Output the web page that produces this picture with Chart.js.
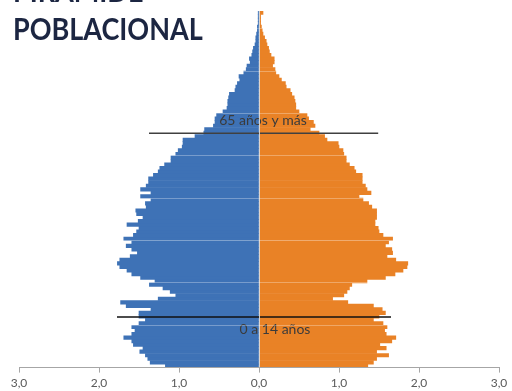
<!DOCTYPE html>
<html>
<head>
<meta charset="utf-8">
<script src="https://cdn.jsdelivr.net/npm/chart.js@4/dist/chart.umd.min.js"></script>
<style>
  html, body { margin: 0; padding: 0; background: #fff; }
  #wrap { position: relative; width: 512px; height: 391px; overflow: hidden; }
  #chart { position: absolute; left: 0; top: 0; }
  .titulo { position: absolute; left: 13px; font-family: Lato, sans-serif; font-weight: 700;
            font-size: 30px; line-height: 30px; color: #1c2642; white-space: nowrap;
            transform: scaleX(0.9); transform-origin: 0 0; }
</style>
</head>
<body>
<div id="wrap">
  <canvas id="chart" width="512" height="395"></canvas>
  <div class="titulo" style="top:-25px">PIRAMIDE</div>
  <div class="titulo" style="top:13px">POBLACIONAL</div>
</div>
<script>
// edades simples, de abajo (0) hacia arriba (100)
var edades = ['0','1','2','3','4','5','6','7','8','9',
  '10','11','12','13','14','15','16','17','18','19',
  '20','21','22','23','24','25','26','27','28','29',
  '30','31','32','33','34','35','36','37','38','39',
  '40','41','42','43','44','45','46','47','48','49',
  '50','51','52','53','54','55','56','57','58','59',
  '60','61','62','63','64','65','66','67','68','69',
  '70','71','72','73','74','75','76','77','78','79',
  '80','81','82','83','84','85','86','87','88','89',
  '90','91','92','93','94','95','96','97','98','99','100'];

// % de la poblacion
var hombres = [1.17,1.36,1.39,1.42,1.49,1.45,1.57,1.59,1.69,1.59,
  1.55,1.59,1.50,1.42,1.50,1.50,1.35,1.66,1.73,1.26,
  1.04,1.11,1.20,1.37,1.30,1.48,1.59,1.65,1.74,1.77,
  1.74,1.61,1.52,1.59,1.66,1.59,1.69,1.57,1.53,1.50,
  1.65,1.51,1.45,1.53,1.54,1.41,1.42,1.35,1.48,1.35,
  1.48,1.41,1.38,1.38,1.32,1.26,1.24,1.18,1.10,1.10,
  1.04,1.01,0.96,0.95,0.95,0.80,0.69,0.68,0.57,0.55,
  0.55,0.53,0.45,0.40,0.39,0.39,0.38,0.37,0.30,0.29,
  0.27,0.24,0.25,0.19,0.16,0.15,0.11,0.12,0.09,0.08,
  0.07,0.05,0.04,0.04,0.03,0.02,0.02,0.01,0.01,0.01,0.01];

var mujeres = [1.36,1.43,1.47,1.62,1.47,1.59,1.51,1.66,1.71,1.59,
  1.57,1.60,1.55,1.43,1.50,1.58,1.54,1.43,1.11,0.92,
  1.06,1.10,1.13,1.16,1.35,1.58,1.70,1.80,1.85,1.86,
  1.71,1.60,1.67,1.66,1.58,1.62,1.67,1.55,1.50,1.49,
  1.45,1.45,1.47,1.47,1.47,1.41,1.37,1.30,1.25,1.40,
  1.35,1.33,1.29,1.29,1.29,1.21,1.19,1.13,1.09,1.09,
  1.06,1.05,1.00,0.99,0.85,0.82,0.75,0.64,0.70,0.68,
  0.62,0.60,0.50,0.46,0.46,0.45,0.44,0.41,0.39,0.34,
  0.33,0.28,0.25,0.21,0.20,0.17,0.19,0.19,0.15,0.13,
  0.12,0.10,0.09,0.07,0.05,0.04,0.03,0.02,0.02,0.02,0.05];

var etiquetasX = ['3,0','2,0','1,0','0,0','1,0','2,0','3,0'];

// lineas de grupos de edad dibujadas sobre las barras
var gruposEdad = {
  id: 'gruposEdad',
  afterDatasetsDraw: function (chart) {
    var ctx = chart.ctx;
    var x = chart.scales.x;
    var y = chart.scales.y;
    var marcas = [
      { texto: '65 años y más', linea: 65.9, desde: -1.375, hasta: 1.49, color: '#404040', tx: 0.05, ty: 69.4 },
      { texto: '0 a 14 años', linea: 13.84, desde: -1.775, hasta: 1.65, color: '#111111', tx: 0.2, ty: 10.2 }
    ];
    ctx.save();
    marcas.forEach(function (m) {
      var py = y.getPixelForValue(m.linea);
      ctx.strokeStyle = m.color;
      ctx.lineWidth = 1.5;
      ctx.beginPath();
      ctx.moveTo(x.getPixelForValue(m.desde), py);
      ctx.lineTo(x.getPixelForValue(m.hasta), py);
      ctx.stroke();

      ctx.fillStyle = '#3b3b3b';
      ctx.font = '14px Lato';
      ctx.textAlign = 'center';
      ctx.textBaseline = 'middle';
      ctx.fillText(m.texto, x.getPixelForValue(m.tx), y.getPixelForValue(m.ty));
    });
    ctx.restore();
  }
};

new Chart(document.getElementById('chart'), {
  type: 'bar',
  data: {
    labels: edades,
    datasets: [{
      label: 'Hombres',
      data: hombres.map(function (v) { return -v; }),
      backgroundColor: '#3e72b6',
      borderWidth: 0,
      categoryPercentage: 1,
      barPercentage: 1
    }, {
      label: 'Mujeres',
      data: mujeres,
      backgroundColor: '#e98226',
      borderWidth: 0,
      categoryPercentage: 1,
      barPercentage: 1
    }]
  },
  options: {
    indexAxis: 'y',
    responsive: false,
    animation: false,
    layout: { padding: { top: 11, left: 19, right: 13, bottom: 2 } },
    plugins: {
      legend: { display: false },
      tooltip: { enabled: false }
    },
    scales: {
      x: {
        stacked: true,
        min: -3,
        max: 3,
        border: { color: '#a6a6a6', width: 1, z: 1 },
        grid: {
          z: 1,
          tickLength: 5,
          tickColor: '#a6a6a6',
          color: function (c) {
            return c.tick && c.tick.value === 0 ? 'rgba(220,220,220,0.9)' : 'rgba(0,0,0,0)';
          }
        },
        ticks: {
          stepSize: 1,
          color: '#595959',
          font: { family: 'Lato', size: 12 },
          padding: 3,
          maxRotation: 0,
          callback: function (v, i) { return etiquetasX[i]; }
        }
      },
      y: {
        stacked: true,
        reverse: true,
        border: { display: false },
        grid: {
          z: 1,
          drawTicks: false,
          color: function (c) {
            return c.index > 0 && c.index % 12 === 0 ? 'rgba(255,255,255,0.3)' : 'rgba(0,0,0,0)';
          }
        },
        ticks: { display: false, autoSkip: false }
      }
    }
  },
  plugins: [gruposEdad]
});
</script>
</body>
</html>
